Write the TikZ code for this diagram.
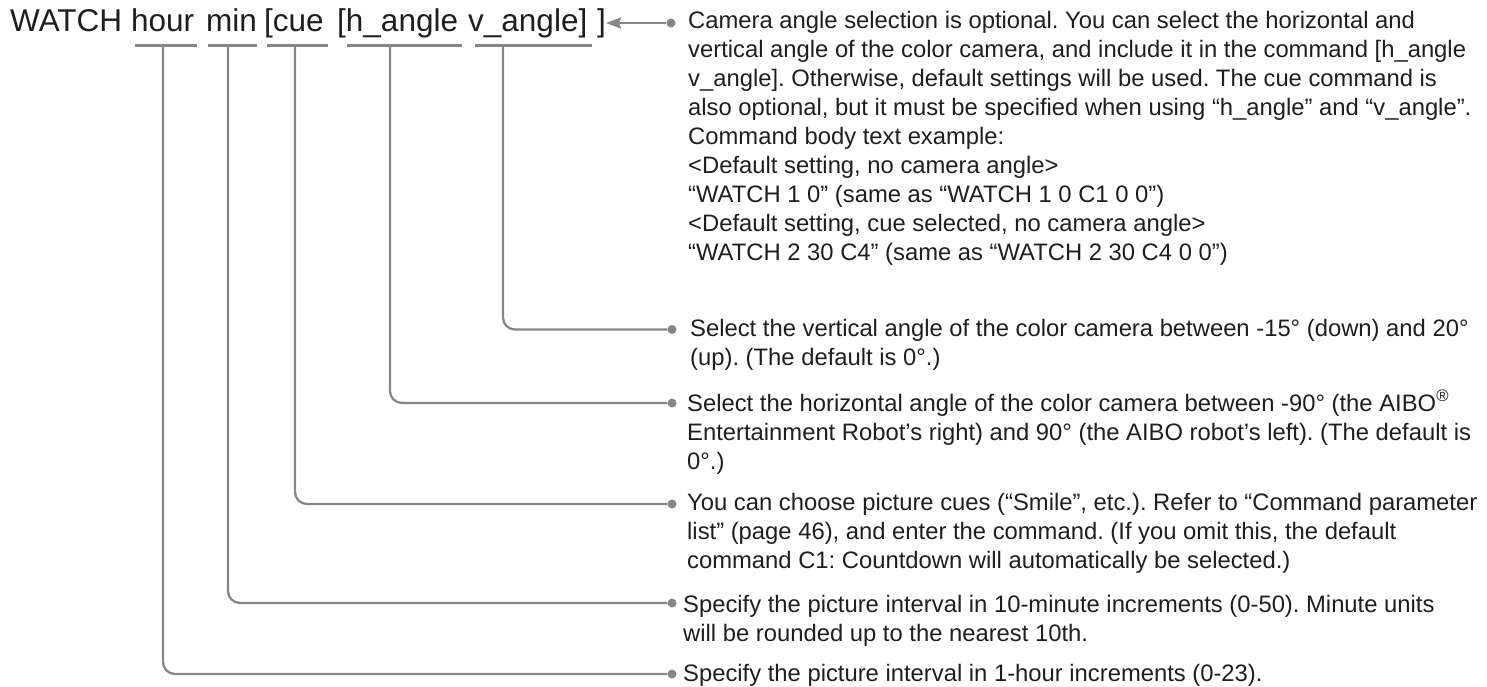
\documentclass[tikz,border=0pt]{standalone}
\usepackage{fontspec}
\setmainfont{Liberation Sans}
\usetikzlibrary{arrows.meta}
\definecolor{ln}{RGB}{133,134,138}
\definecolor{tx}{RGB}{30,30,32}
\newcommand{\blk}[1]{\begin{tabular}[t]{@{}l@{}}#1\end{tabular}}
\frenchspacing
\begin{document}
\begin{tikzpicture}[x=1pt,y=-1pt,
  conn/.style={draw=ln, line width=2.3pt, rounded corners=12pt},
  uline/.style={draw=ln, line width=2.8pt},
  dot/.style={circle, fill=ln, inner sep=0pt, minimum size=9pt},
  body/.style={anchor=base west, inner sep=0pt, text=tx, font=\fontsize{23.8}{29}\selectfont\frenchspacing},
  hdr/.style={anchor=base west, inner sep=0pt, text=tx, font=\fontsize{31.5}{37}\selectfont}]
\useasboundingbox (0,0) rectangle (1487,687);
% command words
\node[hdr] (w1) at (10,31.5) {WATCH};
\node[hdr] (w2) at (131,31.5) {hour};
\node[hdr] (w3) at (206,31.5) {min};
\node[hdr] (w4) at (264,31.5) {[cue};
\node[hdr] (w5) at (337,31.5) {[h\_angle};
\node[hdr] (w6) at (468,31.5) {v\_angle]};
\node[hdr] (w7) at (597,31.5) {]};
% underlines
\draw[uline] (135,45.5) -- (197,45.5);
\draw[uline] (208,45.5) -- (257,45.5);
\draw[uline] (267,45.5) -- (328,45.5);
\draw[uline] (347,45.5) -- (462,45.5);
\draw[uline] (475,45.5) -- (592,45.5);
\coordinate (uh) at (163,45.5);
\coordinate (um) at (228,45.5);
\coordinate (uc) at (295,45.5);
\coordinate (ua) at (390,45.5);
\coordinate (uv) at (503,45.5);
\coordinate (tip) at (606,23);
% dots
\node[dot] (d1) at (671,23) {};
\node[dot] (d2) at (672,329.5) {};
\node[dot] (d3) at (672,403) {};
\node[dot] (d4) at (672,504) {};
\node[dot] (d5) at (672,603) {};
\node[dot] (d6) at (672,674) {};
% connectors
\draw[draw=ln, line width=2.3pt, -{Stealth[length=15pt,width=11pt,inset=2pt]}] (d1) -- (tip);
\draw[conn] (uv) |- (d2);
\draw[conn] (ua) |- (d3);
\draw[conn] (uc) |- (d4);
\draw[conn] (um) |- (d5);
\draw[conn] (uh) |- (d6);
% texts
\node[body] (t1) at (688,28.5) {\blk{Camera angle selection is optional. You can select the horizontal and\\
vertical angle of the color camera, and include it in the command [h\_angle\\
v\_angle]. Otherwise, default settings will be used. The cue command is\\
also optional, but it must be specified when using “h\_angle” and “v\_angle”.\\
Command body text example:\\
<Default setting, no camera angle>\\
“WATCH 1 0” (same as “WATCH 1 0 C1 0 0”)\\
<Default setting, cue selected, no camera angle>\\
“WATCH 2 30 C4” (same as “WATCH 2 30 C4 0 0”)}};
\node[body] (t2) at (690,336) {\blk{Select the vertical angle of the color camera between -15° (down) and 20°\\
(up). (The default is 0°.)}};
\node[body] (t3) at (687,411) {\blk{Select the horizontal angle of the color camera between -90° (the AIBO\textsuperscript{®}\\
Entertainment Robot’s right) and 90° (the AIBO robot’s left). (The default is\\
0°.)}};
\node[body] (t4) at (687,510) {\blk{You can choose picture cues (“Smile”, etc.). Refer to “Command parameter\\
list” (page 46), and enter the command. (If you omit this, the default\\
command C1: Countdown will automatically be selected.)}};
\node[body] (t5) at (683,612) {\blk{Specify the picture interval in 10-minute increments (0-50). Minute units\\
will be rounded up to the nearest 10th.}};
\node[body] (t6) at (683,681) {Specify the picture interval in 1-hour increments (0-23).};
\end{tikzpicture}
\end{document}
